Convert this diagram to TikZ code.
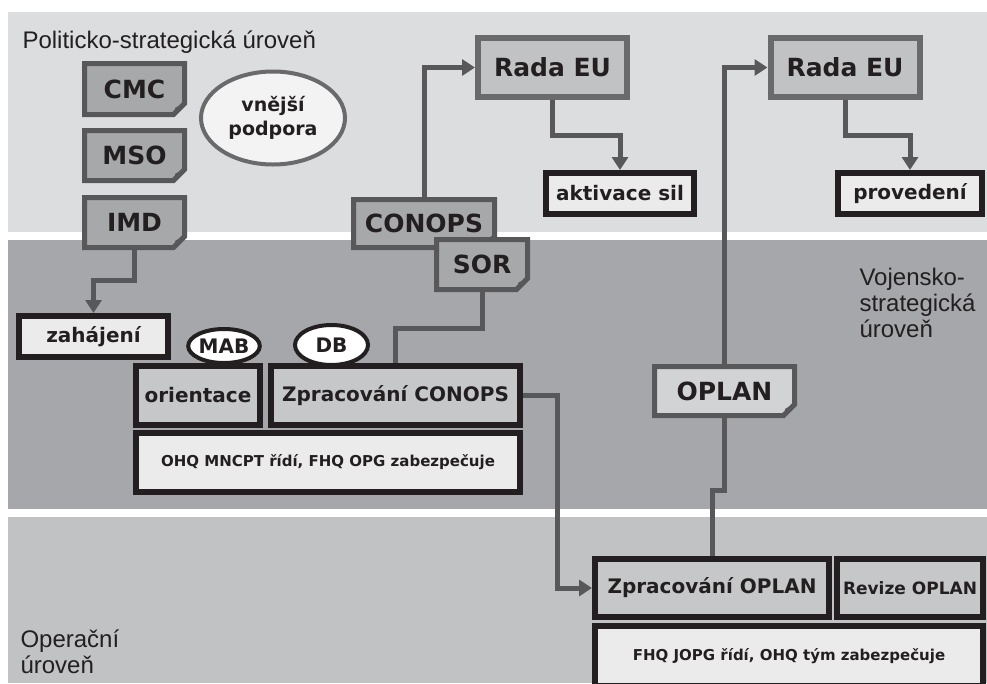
\documentclass[tikz,border=0pt]{standalone}
\usepackage{fontspec}
\setmainfont{Liberation Sans}
\setsansfont{DejaVu Sans}
\usetikzlibrary{arrows.meta,calc,shapes.geometric}

\definecolor{bandtop}{HTML}{DCDDDF}
\definecolor{bandmid}{HTML}{A6A7AA}
\definecolor{bandlow}{HTML}{C1C2C4}
\definecolor{docfill}{HTML}{A7A8AA}
\definecolor{oplanfill}{HTML}{D2D3D5}
\definecolor{docgray}{HTML}{58585A}
\definecolor{councilgray}{HTML}{6A6A6C}
\definecolor{councilfill}{HTML}{C1C2C4}
\definecolor{taskfill}{HTML}{C6C7C9}
\definecolor{lightfill}{HTML}{EBEBEC}
\definecolor{flowgray}{HTML}{58585A}
\definecolor{inkblack}{HTML}{231F20}

\tikzset{
  bigfont/.style={font=\sffamily\bfseries\fontsize{25}{28}\selectfont},
  midfont/.style={font=\sffamily\bfseries\fontsize{20}{24}\selectfont},
  smallfont/.style={font=\sffamily\bfseries\fontsize{15}{18}\selectfont},
  levelfont/.style={font=\fontsize{24}{26}\selectfont,text=inkblack,align=left},
  docframe/.style={draw=docgray,line width=5pt},
  doctext/.style={bigfont,text=inkblack,inner sep=0pt,outer sep=2.5pt},
  council/.style={draw=councilgray,line width=6pt,fill=councilfill,bigfont,
    text=inkblack,minimum width=149pt,minimum height=59pt},
  result/.style={draw=inkblack,line width=6pt,fill=lightfill,midfont,
    text=inkblack,minimum height=41pt},
  task/.style={draw=inkblack,line width=6pt,fill=taskfill,midfont,
    text=inkblack,inner sep=0pt},
  staff/.style={task,fill=lightfill,smallfont},
  body/.style={ellipse,draw=inkblack,line width=4pt,fill=white,midfont,
    text=inkblack,inner sep=0pt},
  flow/.style={draw=flowgray,line width=5pt,-{Triangle[length=13pt,width=16pt]}},
  link/.style={draw=flowgray,line width=5pt}
}

% document with folded corner: name, centre, width, height, text, fill
\newcommand{\docnode}[6]{%
  \filldraw[docframe,fill=#6] ($(#2)+(-0.5*#3,-0.5*#4)$) -- ($(#2)+(0.5*#3,-0.5*#4)$)
    -- ($(#2)+(0.5*#3,0.5*#4-11)$) -- ($(#2)+(0.5*#3-11,0.5*#4)$)
    -- ($(#2)+(-0.5*#3,0.5*#4)$) -- cycle;
  \fill[docgray] ($(#2)+(0.5*#3,0.5*#4-11)$) -- ($(#2)+(0.5*#3-11,0.5*#4)$)
    -- ($(#2)+(0.5*#3-9,0.5*#4-7)$) -- cycle;
  \node[doctext,minimum width=#3,minimum height=#4] (#1) at (#2) {#5};
}

\begin{document}
\begin{tikzpicture}[x=1pt,y=-1pt,line join=miter]
  \useasboundingbox (0,0) rectangle (987,683);
  % levels
  \fill[bandtop] (8,12) rectangle (987,232);
  \fill[bandmid] (8,240) rectangle (987,509);
  \fill[bandlow] (8,517) rectangle (987,683);
  \node[levelfont,anchor=base west] (lvltop) at (19,48) {Politicko-strategická úroveň};
  \node[levelfont,anchor=base west] (lvlmid) at (856,337) {Vojensko-\\strategická\\úroveň};
  \node[levelfont,anchor=base west] (lvllow) at (17,673) {Operační\\úroveň};

  % documents
  \docnode{cmc}{134.5,89}{100}{51}{CMC}{docfill}
  \docnode{mso}{134.5,155.5}{100}{50}{MSO}{docfill}
  \docnode{imd}{134.5,222.5}{100}{50}{IMD}{docfill}
  \docnode{conops}{424,223.5}{141}{48}{CONOPS}{docfill}
  \docnode{sor}{482,264.5}{91}{50}{SOR}{docfill}
  \docnode{oplan}{724.5,391}{140}{49}{OPLAN}{oplanfill}

  \node[ellipse,draw=councilgray,line width=4pt,fill=lightfill!60!white,
    minimum width=144pt,minimum height=93pt,inner sep=0pt,align=center,
    font=\sffamily\bfseries\fontsize{19}{24}\selectfont,text=inkblack]
    (podpora) at (273,118) {vnější\\podpora};

  % council and results
  \node[council] (rada1) at (552.5,67.5) {Rada EU};
  \node[council] (rada2) at (845,67.5) {Rada EU};
  \node[result,minimum width=148pt] (aktivace) at (620,193.5) {aktivace sil};
  \node[result,minimum width=144pt] (provedeni) at (910,193.5) {provedení};
  \node[result,minimum width=149pt] (zahajeni) at (93.5,336.5) {zahájení};

  % planning work
  \node[task,minimum width=124pt,minimum height=59pt] (orientace) at (198,395.5) {orientace};
  \node[task,minimum width=249pt,minimum height=59pt] (zprconops) at (395.5,395.5) {Zpracování CONOPS};
  \node[staff,minimum width=384pt,minimum height=59pt] (ohq) at (328,462.5) {OHQ MNCPT řídí, FHQ OPG zabezpečuje};
  \node[body,minimum width=68pt,minimum height=34pt] (mab) at (224,346) {MAB};
  \node[body,minimum width=73pt,minimum height=40pt] (db) at (331.5,345) {DB};
  \node[task,minimum width=234pt,minimum height=58pt] (zproplan) at (712,588) {Zpracování OPLAN};
  \node[task,minimum width=146pt,minimum height=58pt,
    font=\sffamily\bfseries\fontsize{17}{20}\selectfont] (revize) at (910,588) {Revize OPLAN};
  \node[staff,minimum width=388pt,minimum height=60pt] (fhq) at (789,656) {FHQ JOPG řídí, OHQ tým zabezpečuje};

  % connectors
  \draw[flow] (imd.south) -- ++(0,30) -| (zahajeni.north);
  \draw[flow] (conops.north) |- (rada1.west);
  \draw[flow] (rada1.south) -- ++(0,35) -| (aktivace.north);
  \draw[flow] (oplan.north) |- (rada2.west);
  \draw[flow] (rada2.south) -- ++(0,35) -| (provedeni.north);
  \draw[link] (sor.south) -- ++(0,36) -| (zprconops.north);
  \draw[flow] (zprconops.east) -- ++(34,0) |- (zproplan.west);
  \draw[link] (zproplan.north) -- ++(0,-66) -| (oplan.south);
\end{tikzpicture}
\end{document}
